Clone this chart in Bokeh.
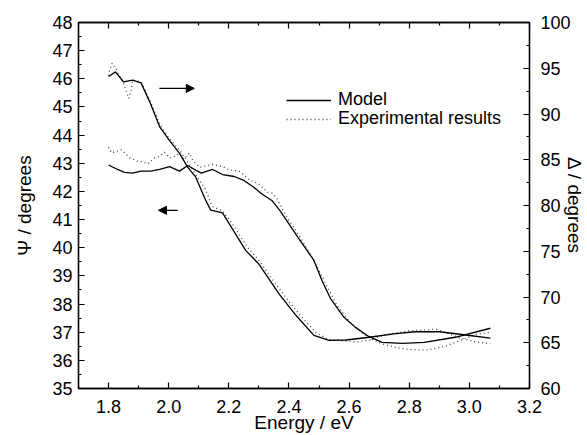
from bokeh.plotting import figure
from bokeh.models import (Range1d, LinearAxis, FixedTicker, PrintfTickFormatter,
                          ColumnDataSource, Legend, LegendItem, Arrow, NormalHead)
from bokeh.embed import file_html
from bokeh.resources import INLINE

# ---------------- data ----------------
psi_model_energy = [1.80, 1.83, 1.853, 1.88, 1.908, 1.94, 1.97, 2.003, 2.036, 2.063,
                    2.108, 2.146, 2.179, 2.218, 2.25, 2.283, 2.31, 2.343, 2.37, 2.392,
                    2.43, 2.483, 2.51, 2.539, 2.583, 2.62, 2.665, 2.71, 2.777, 2.85,
                    2.953, 3.07]
psi_model = [42.94, 42.78, 42.68, 42.65, 42.72, 42.72, 42.78, 42.88, 42.72, 42.92,
             42.65, 42.78, 42.60, 42.53, 42.39, 42.15, 41.91, 41.68, 41.32, 40.97,
             40.37, 39.55, 38.83, 38.18, 37.53, 37.18, 36.85, 36.64, 36.60, 36.64,
             36.82, 37.14]

psi_exp_energy = [1.80, 1.81, 1.827, 1.843, 1.855, 1.87, 1.897, 1.915, 1.93, 1.953,
                  1.97, 1.986, 2.003, 2.02, 2.036, 2.05, 2.069, 2.08, 2.103, 2.13,
                  2.146, 2.18, 2.20, 2.234, 2.25, 2.267, 2.30, 2.328, 2.345, 2.36,
                  2.378, 2.40, 2.42, 2.45, 2.49, 2.53, 2.56, 2.60, 2.64, 2.68,
                  2.72, 2.76, 2.80, 2.86, 2.92, 2.98, 3.02, 3.07]
psi_exp = [43.57, 43.37, 43.43, 43.48, 43.35, 43.20, 43.07, 43.05, 42.98, 43.19,
           43.25, 43.39, 43.19, 43.25, 43.34, 43.15, 43.36, 43.10, 42.86, 42.92,
           42.96, 42.88, 42.77, 42.72, 42.59, 42.41, 42.27, 41.97, 41.94, 41.74,
           41.38, 40.97, 40.67, 40.15, 39.40, 38.55, 37.95, 37.40, 37.00, 36.72,
           36.55, 36.45, 36.38, 36.37, 36.50, 36.75, 36.92, 37.00]

delta_model_energy = [1.80, 1.823, 1.85, 1.88, 1.908, 1.94, 1.97, 2.003, 2.036, 2.063,
                      2.09, 2.124, 2.14, 2.179, 2.256, 2.30, 2.367, 2.423, 2.483, 2.533,
                      2.59, 2.667, 2.755, 2.82, 2.90, 2.975, 3.07]
delta_model = [94.1, 94.6, 93.5, 93.7, 93.4, 91.1, 88.6, 87.1, 85.7, 84.2,
               83.1, 80.5, 79.5, 79.2, 75.1, 73.6, 70.35, 68.0, 65.8, 65.25,
               65.3, 65.6, 66.0, 66.2, 66.2, 65.9, 65.5]

delta_exp_energy = [1.80, 1.803, 1.812, 1.825, 1.84, 1.85, 1.86, 1.867, 1.875, 1.88,
                    1.908, 1.94, 1.97, 2.00, 2.04, 2.07, 2.095, 2.12, 2.145, 2.18,
                    2.22, 2.26, 2.30, 2.35, 2.40, 2.44, 2.49, 2.53, 2.58, 2.63,
                    2.68, 2.72, 2.76, 2.80, 2.85, 2.887, 2.93, 2.97, 3.02, 3.07]
delta_exp = [94.2, 94.75, 95.55, 94.9, 93.9, 93.3, 92.4, 91.7, 92.6, 93.7,
             93.5, 91.3, 88.9, 87.4, 85.9, 84.4, 83.1, 81.9, 79.9, 79.4,
             77.6, 75.5, 74.0, 71.7, 69.5, 67.9, 66.1, 65.4, 65.2, 65.1,
             65.4, 65.9, 66.1, 66.3, 66.4, 66.5, 66.0, 65.5, 65.1, 64.9]

x_major = [1.8, 2.0, 2.2, 2.4, 2.6, 2.8, 3.0, 3.2]
x_minor = [1.7, 1.9, 2.1, 2.3, 2.5, 2.7, 2.9, 3.1]
psi_major = list(range(35, 49))
psi_minor = [v + 0.5 for v in range(35, 48)]
delta_major = [60, 65, 70, 75, 80, 85, 90, 95, 100]
delta_minor = [62.5, 67.5, 72.5, 77.5, 82.5, 87.5, 92.5, 97.5]

# arrow annotations (data coordinates, left axis)
arrow_delta = dict(x_start=1.969, x_end=2.085, y=45.66)
arrow_psi = dict(x_start=2.03, x_end=1.966, y=41.33)

FONT = "Liberation Sans"
TICK_SIZE = "18px"
LABEL_SIZE = "19px"
LEGEND_SIZE = "18px"

p = figure(width=587, height=435, x_range=Range1d(1.7, 3.2), y_range=Range1d(35, 48),
           output_backend="svg", toolbar_location=None,
           min_border_left=78, min_border_right=56, min_border_top=22,
           min_border_bottom=47)
p.extra_y_ranges = {"delta": Range1d(60, 100)}
p.xgrid.visible = False
p.ygrid.visible = False
p.outline_line_color = "black"
p.outline_line_width = 1.3
p.background_fill_color = "white"
p.border_fill_color = "white"


def style_axis(ax, major, minor):
    ax.ticker = FixedTicker(ticks=major, minor_ticks=minor)
    ax.axis_line_color = "black"
    ax.axis_line_width = 1.3
    ax.major_tick_line_color = "black"
    ax.minor_tick_line_color = "black"
    ax.major_tick_line_width = 1.2
    ax.minor_tick_line_width = 1.2
    ax.major_tick_in = 6
    ax.major_tick_out = 0
    ax.minor_tick_in = 3
    ax.minor_tick_out = 0
    ax.major_label_text_font = FONT
    ax.major_label_text_font_size = TICK_SIZE
    ax.major_label_text_color = "black"
    ax.axis_label_text_font = FONT
    ax.axis_label_text_font_size = LABEL_SIZE
    ax.axis_label_text_font_style = "normal"
    ax.axis_label_text_color = "black"


xax = p.xaxis[0]
style_axis(xax, x_major, x_minor)
xax.formatter = PrintfTickFormatter(format="%.1f")
xax.axis_label = "Energy / eV"
xax.major_label_standoff = 11
xax.axis_label_standoff = -4

yax = p.yaxis[0]
style_axis(yax, psi_major, psi_minor)
yax.axis_label = "Ψ / degrees"
yax.major_label_standoff = 6
yax.axis_label_standoff = 14

rax = LinearAxis(y_range_name="delta")
style_axis(rax, delta_major, delta_minor)
rax.axis_label = "Δ / degrees"
rax.major_label_standoff = 11
rax.axis_label_standoff = -10
p.add_layout(rax, "right")

tax = LinearAxis()
style_axis(tax, x_major, x_minor)
tax.major_label_text_font_size = "0px"
tax.major_label_standoff = 0
tax.major_label_text_color = None
p.add_layout(tax, "above")

src_pm = ColumnDataSource(dict(x=psi_model_energy, y=psi_model))
src_pe = ColumnDataSource(dict(x=psi_exp_energy, y=psi_exp))
src_dm = ColumnDataSource(dict(x=delta_model_energy, y=delta_model))
src_de = ColumnDataSource(dict(x=delta_exp_energy, y=delta_exp))

DOT = "1 3"
r_pe = p.line("x", "y", source=src_pe, line_color="#444444", line_width=1.3, line_dash=DOT)
r_de = p.line("x", "y", source=src_de, y_range_name="delta", line_color="#444444",
              line_width=1.3, line_dash=DOT)
r_pm = p.line("x", "y", source=src_pm, line_color="black", line_width=1.3)
r_dm = p.line("x", "y", source=src_dm, y_range_name="delta", line_color="black", line_width=1.3)

for a in (arrow_delta, arrow_psi):
    p.add_layout(Arrow(x_start=a["x_start"], x_end=a["x_end"], y_start=a["y"], y_end=a["y"],
                       line_color="black", line_width=1.3,
                       end=NormalHead(size=8, fill_color="black", line_color="black",
                                      line_width=1)))


def make_legend(label, renderer, loc):
    lg = Legend(items=[LegendItem(label=label, renderers=[renderer])], location=loc,
                padding=0, margin=0, spacing=0, border_line_color=None,
                background_fill_alpha=0, glyph_width=45, glyph_height=14,
                label_standoff=7, label_height=14,
                label_text_font=FONT, label_text_font_size=LEGEND_SIZE,
                label_text_color="black")
    p.add_layout(lg)


make_legend("Model", r_pm, (208, 278))
make_legend("Experimental results", r_pe, (208, 259))

open("out.html", "w").write(file_html(p, INLINE))
